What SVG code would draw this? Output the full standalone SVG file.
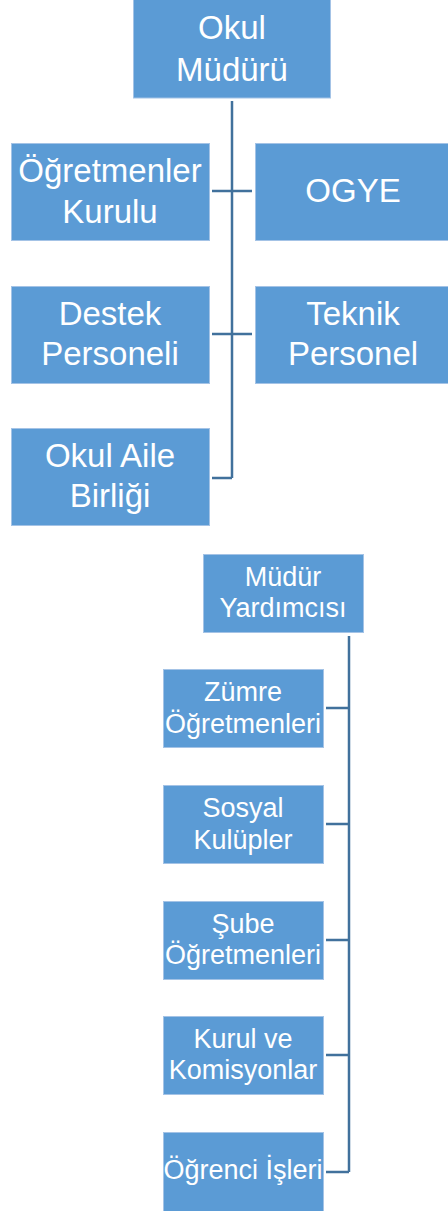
<svg xmlns="http://www.w3.org/2000/svg" width="448" height="1211" viewBox="0 0 448 1211">
<style>
.box{fill:#5B9BD5;stroke:#A4C3E6;stroke-width:1}
.t{fill:#FFFFFF;font-family:"Liberation Sans",Arial,sans-serif;text-anchor:middle}
.big{font-size:33px}
.sm{font-size:27px}
.con{stroke:#41719C;stroke-width:2.5;fill:none}
</style>
<rect width="448" height="1211" fill="#FFFFFF"/>
<g id="connectors">
<path class="con" d="M232,101 V478 M212,191 H252 M212,334 H252 M212,478 H232"/>
<path class="con" d="M349,636 V1172 M326,708 H349 M326,824 H349 M326,940 H349 M326,1055 H349 M326,1172 H349"/>
</g>
<g id="okul-muduru"><rect class="box" x="133.5" y="-1" width="197" height="99"/><text class="t big" x="232" y="39">Okul</text><text class="t big" x="232" y="81">Müdürü</text></g>
<g id="ogretmenler-kurulu"><rect class="box" x="11.5" y="143.5" width="198" height="97"/><text class="t big" x="110" y="182">Öğretmenler</text><text class="t big" x="110" y="223">Kurulu</text></g>
<g id="ogye"><rect class="box" x="255.5" y="143.5" width="194" height="97"/><text class="t big" x="353" y="202">OGYE</text></g>
<g id="destek-personeli"><rect class="box" x="11.5" y="286.5" width="198" height="97"/><text class="t big" x="110" y="325">Destek</text><text class="t big" x="110" y="365">Personeli</text></g>
<g id="teknik-personel"><rect class="box" x="255.5" y="286.5" width="194" height="97"/><text class="t big" x="353" y="325">Teknik</text><text class="t big" x="353" y="365">Personel</text></g>
<g id="okul-aile-birligi"><rect class="box" x="11.5" y="428.5" width="198" height="97"/><text class="t big" x="110" y="467">Okul Aile</text><text class="t big" x="110" y="507">Birliği</text></g>
<g id="mudur-yardimcisi"><rect class="box" x="203.5" y="554.5" width="160" height="78"/><text class="t sm" x="283" y="586">Müdür</text><text class="t sm" x="283" y="617">Yardımcısı</text></g>
<g id="zumre-ogretmenleri"><rect class="box" x="163.5" y="669.5" width="160" height="78"/><text class="t sm" x="243" y="701">Zümre</text><text class="t sm" x="243" y="733">Öğretmenleri</text></g>
<g id="sosyal-kulupler"><rect class="box" x="163.5" y="785.5" width="160" height="78"/><text class="t sm" x="243" y="817">Sosyal</text><text class="t sm" x="243" y="849">Kulüpler</text></g>
<g id="sube-ogretmenleri"><rect class="box" x="163.5" y="901.5" width="160" height="78"/><text class="t sm" x="243" y="933">Şube</text><text class="t sm" x="243" y="964">Öğretmenleri</text></g>
<g id="kurul-ve-komisyonlar"><rect class="box" x="163.5" y="1016.5" width="160" height="78"/><text class="t sm" x="243" y="1048">Kurul ve</text><text class="t sm" x="243" y="1079">Komisyonlar</text></g>
<g id="ogrenci-isleri"><rect class="box" x="163.5" y="1132.5" width="160" height="80"/><text class="t sm" x="243" y="1179">Öğrenci İşleri</text></g>
</svg>
